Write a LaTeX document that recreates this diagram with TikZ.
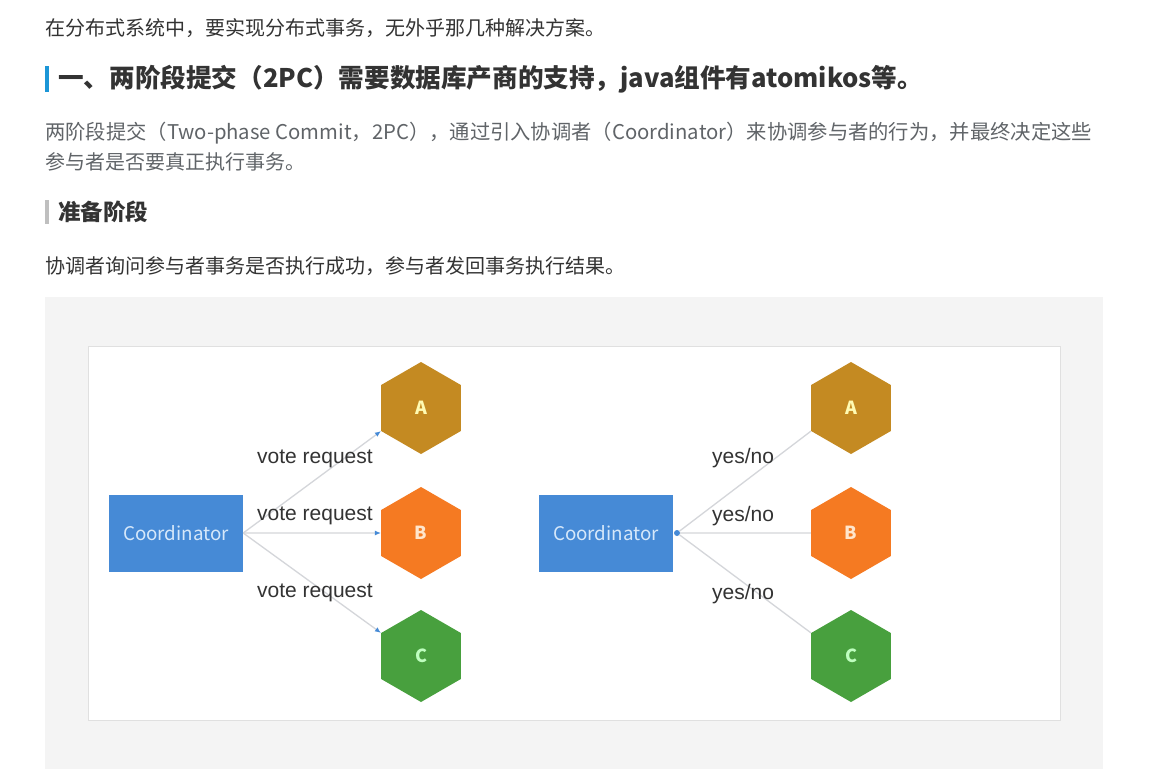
\documentclass[tikz,border=0pt]{standalone}
\usepackage{fontspec}
\usepackage{xcolor}
\usetikzlibrary{positioning,arrows.meta,shapes.geometric}
\newfontfamily\cjk{Noto Sans CJK SC}
\setsansfont{Liberation Sans}
\definecolor{tcblue}{RGB}{70,138,214}
\definecolor{tclight}{RGB}{214,232,250}
\definecolor{tcbar}{RGB}{28,150,215}
\definecolor{tcgold}{RGB}{196,138,34}
\definecolor{tcorange}{RGB}{245,122,34}
\definecolor{tcgreen}{RGB}{72,160,62}
\definecolor{tcline}{RGB}{212,214,218}
\definecolor{tctext}{RGB}{51,51,51}
\definecolor{tcgray}{RGB}{96,100,104}
\definecolor{tcpanel}{RGB}{244,244,244}
\tikzset{
  para/.style={anchor=west, inner sep=0pt, text=tctext, font=\cjk\fontsize{20}{24}\selectfont},
  head/.style={anchor=west, inner sep=0pt, text=tctext, font=\cjk\bfseries\fontsize{25.6}{30}\selectfont},
  hexa/.style={regular polygon, regular polygon sides=6, shape border rotate=30, minimum size=92pt, inner sep=0pt, font=\cjk\bfseries\fontsize{18}{18}\selectfont},
  coordbox/.style={rectangle, fill=tcblue, minimum width=134pt, minimum height=77pt, text=tclight, font=\cjk\fontsize{18.8}{19}\selectfont},
  link/.style={draw=tcline, line width=1.3pt},
  vote/.style={link, -{Latex[length=6pt,width=5pt,color=tcblue]}},
  lbl/.style={inner sep=0pt, text=tctext, font=\sffamily\fontsize{21}{21}\selectfont}
}
\begin{document}
\begin{tikzpicture}[x=1pt,y=-1pt]
  \useasboundingbox (0,0) rectangle (1153,769);
  \fill[white] (0,0) rectangle (1153,769);

  % text of the page
  \node[para] (l1) at (45,28) {在分布式系统中，要实现分布式事务，无外乎那几种解决方案。};
  \fill[tcbar] (45,66) rectangle (49,92);
  \node[head] (h1) at (58,79) {一、两阶段提交（2PC）需要数据库产商的支持，java组件有atomikos等。};
  \node[para, text=tcgray, font=\cjk\fontsize{20.3}{24}\selectfont] (l3) at (45,133) {两阶段提交（Two-phase Commit，2PC），通过引入协调者（Coordinator）来协调参与者的行为，并最终决定这些};
  \node[para, text=tcgray] (l4) at (45,162) {参与者是否要真正执行事务。};
  \fill[black!25] (45,200) rectangle (49,224);
  \node[head, font=\cjk\bfseries\fontsize{22.5}{26}\selectfont] (h2) at (58,212) {准备阶段};
  \node[para] (l5) at (45,266) {协调者询问参与者事务是否执行成功，参与者发回事务执行结果。};

  % figure panel
  \fill[tcpanel] (45,297) rectangle (1103,769);
  \filldraw[fill=white, draw=black!12] (88,346) rectangle (1060,720);

  % prepare request
  \node[coordbox] (cl) at (176,533) {Coordinator};
  \node[hexa, fill=tcgold, text=yellow!30] (al) at (421,408) {A};
  \node[hexa, fill=tcorange, text=orange!20] (bl) at (421,533) {B};
  \node[hexa, fill=tcgreen, text=green!25] (cl3) at (421,656) {C};
  \draw[vote] (cl.east) -- (al.210);
  \draw[vote] (cl.east) -- (bl.west);
  \draw[vote] (cl.east) -- (cl3.150);
  \node[lbl] (va) at (315,459) {vote request};
  \node[lbl] (vb) at (315,516) {vote request};
  \node[lbl] (vc) at (315,593) {vote request};

  % answers
  \node[coordbox] (cr) at (606,533) {Coordinator};
  \node[circle, fill=tcblue, inner sep=0pt, minimum size=6pt] (dot) at (677,533) {};
  \node[hexa, fill=tcgold, text=yellow!30] (ar) at (851,408) {A};
  \node[hexa, fill=tcorange, text=orange!20] (br) at (851,533) {B};
  \node[hexa, fill=tcgreen, text=green!25] (cr3) at (851,656) {C};
  \foreach \t in {ar.210,br.west,cr3.150}{\draw[link] (dot) -- (\t);}
  \node[lbl] (ya) at (743,458) {yes/no};
  \node[lbl] (yb) at (743,516) {yes/no};
  \node[lbl] (yc) at (743,594) {yes/no};
\end{tikzpicture}
\end{document}
